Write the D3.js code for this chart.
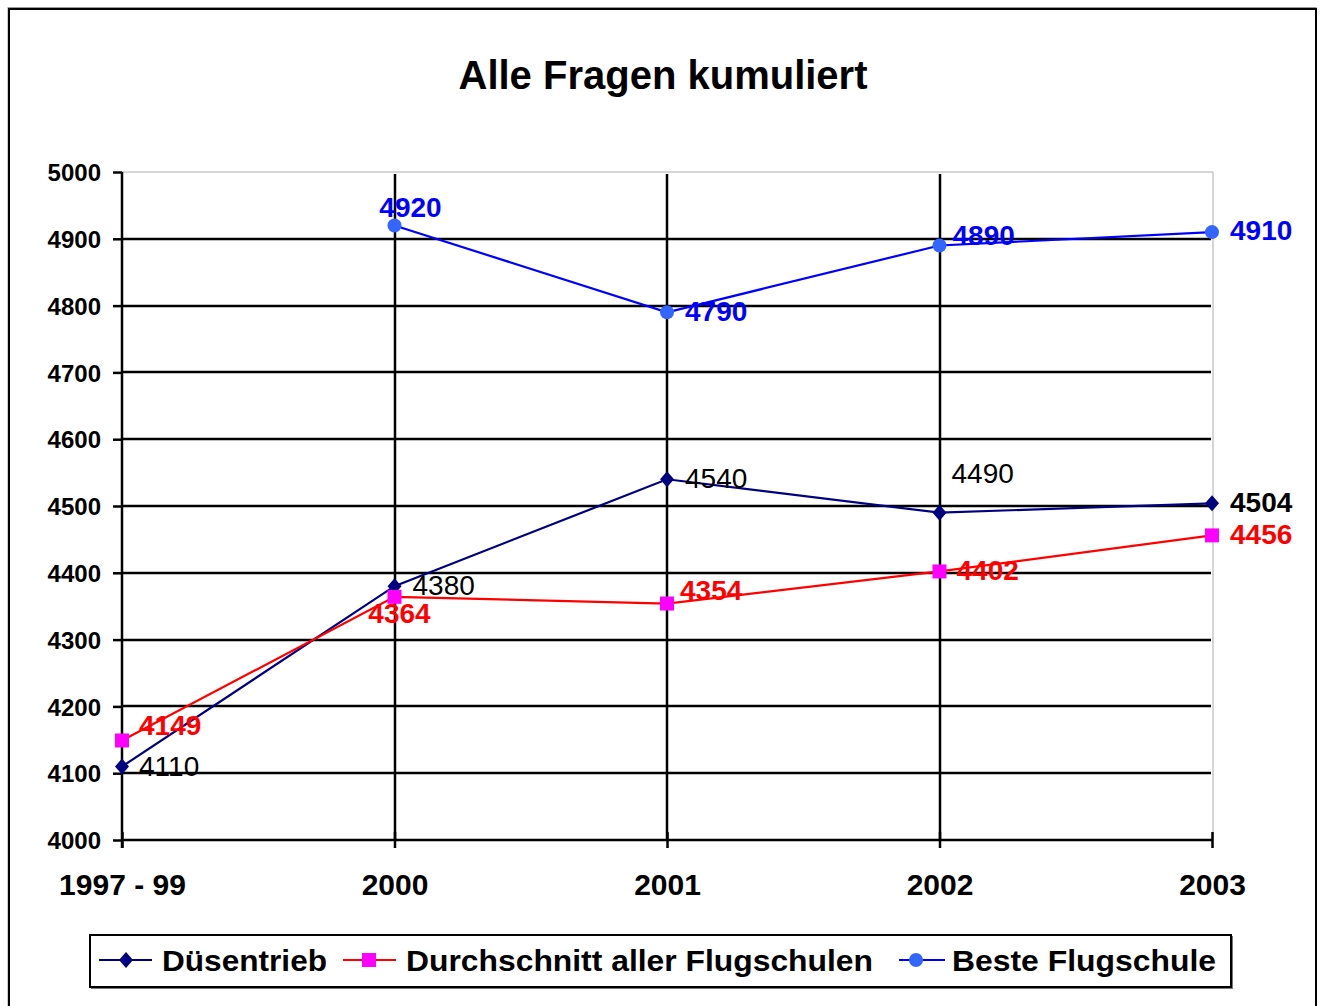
<!DOCTYPE html>
<html>
<head>
<meta charset="utf-8">
<script src="https://cdn.jsdelivr.net/npm/d3@7"></script>
<style>
  html, body { margin: 0; padding: 0; background: #fff; }
  svg { display: block; font-family: "Liberation Sans", Arial, sans-serif; }
</style>
</head>
<body>
<svg id="chart" width="1321" height="1006"></svg>
<script>
// ---- data ----
const categories = ["1997 - 99", "2000", "2001", "2002", "2003"];
const duesentrieb = [4110, 4380, 4540, 4490, 4504];
const durchschnitt = [4149, 4364, 4354, 4402, 4456];
const besteFlugschule = [null, 4920, 4790, 4890, 4910];
const yTicks = [4000, 4100, 4200, 4300, 4400, 4500, 4600, 4700, 4800, 4900, 5000];
const seriesNames = ["Düsentrieb", "Durchschnitt aller Flugschulen", "Beste Flugschule"];
const title = "Alle Fragen kumuliert";

// ---- label offsets (presentation) ----
const offDues = [[17, 9, "start", "normal"], [18, 9, "start", "normal"], [18, 9, "start", "normal"], [12, -30, "start", "normal"], [18, 9, "start", "bold"]];
const offDurch = [[17, -5, "start", "bold"], [5, 26, "middle", "bold"], [13, -4, "start", "bold"], [17, 9, "start", "bold"], [18, 9, "start", "bold"]];
const offBeste = [null, [16, -8, "middle", "bold"], [18, 9, "start", "bold"], [13, 0, "start", "bold"], [18, 8, "start", "bold"]];

const svg = d3.select("#chart");

// outer frame
svg.append("rect").attr("x", 8).attr("y", 7.5).attr("width", 1308).attr("height", 1010)
  .attr("fill", "none").attr("stroke", "#999").attr("stroke-width", 1);
svg.append("rect").attr("x", 9).attr("y", 9).attr("width", 1307).attr("height", 1010)
  .attr("fill", "none").attr("stroke", "#000").attr("stroke-width", 2);

const x = d3.scalePoint().domain(categories).range([122, 1212]).padding(0);
const y = d3.scaleLinear().domain([4000, 5000]).range([840, 172]);
const ry = v => Math.round(y(v));

// title
svg.append("text").attr("x", 663).attr("y", 89).attr("text-anchor", "middle")
  .attr("font-size", 40).attr("font-weight", "bold").text(title);

// plot border (grey top/right)
svg.append("line").attr("x1", 122).attr("x2", 1213).attr("y1", 172).attr("y2", 172)
  .attr("stroke", "#c8c8c8").attr("stroke-width", 1.5);
svg.append("line").attr("x1", 1213).attr("x2", 1213).attr("y1", 172).attr("y2", 840)
  .attr("stroke", "#c8c8c8").attr("stroke-width", 1.5);

// horizontal gridlines
svg.append("g").selectAll("line").data(yTicks.filter(t => t > 4000 && t < 5000)).join("line")
  .attr("x1", 122).attr("x2", 1211).attr("y1", d => ry(d)).attr("y2", d => ry(d))
  .attr("stroke", "#000").attr("stroke-width", 2.5);

// vertical gridlines
svg.append("g").selectAll("line").data(categories.slice(1, 4)).join("line")
  .attr("x1", d => Math.round(x(d))).attr("x2", d => Math.round(x(d))).attr("y1", 174).attr("y2", 840)
  .attr("stroke", "#000").attr("stroke-width", 2.5);

// y axis
const yAxis = svg.append("g").attr("transform", "translate(122,0)")
  .call(d3.axisLeft(y).tickValues(yTicks).tickSize(9).tickPadding(12).tickFormat(d3.format("d")));
yAxis.select(".domain").attr("stroke", "#000").attr("stroke-width", 2.5).attr("d", "M0,172V848");
yAxis.selectAll(".tick line").attr("stroke", "#000").attr("stroke-width", 2.5);
yAxis.selectAll(".tick text").attr("font-size", 24).attr("font-weight", "bold")
  .attr("fill", "#000").attr("font-family", "Liberation Sans, Arial, sans-serif").attr("dy", "0.36em");

// x axis
const xAxis = svg.append("g").attr("transform", "translate(0,840)")
  .call(d3.axisBottom(x).tickSize(8).tickPadding(26));
xAxis.select(".domain").attr("stroke", "#000").attr("stroke-width", 2.5).attr("d", "M122,0H1212");
xAxis.selectAll(".tick line").attr("stroke", "#000").attr("stroke-width", 2.5).attr("y1", -8);
xAxis.selectAll(".tick text").attr("font-size", 30).attr("font-weight", "bold")
  .attr("fill", "#000").attr("font-family", "Liberation Sans, Arial, sans-serif").attr("dy", "0.71em");

// series
const series = [
  { name: seriesNames[0], values: duesentrieb, line: "#000080", marker: "#000080", shape: "diamond", labelColor: "#000", offs: offDues },
  { name: seriesNames[1], values: durchschnitt, line: "#ff0000", marker: "#ff00ff", shape: "square", labelColor: "#ff0000", offs: offDurch },
  { name: seriesNames[2], values: besteFlugschule, line: "#0000ff", marker: "#3366ff", shape: "circle", labelColor: "#0000ff", offs: offBeste }
];

const lineGen = d3.line().defined(d => d.v != null).x(d => x(d.c)).y(d => y(d.v));

series.forEach(s => {
  const pts = categories.map((c, i) => ({ c, v: s.values[i], i }));
  svg.append("path").datum(pts).attr("d", lineGen).attr("fill", "none")
    .attr("stroke", s.line).attr("stroke-width", 2.2);
});

function markerPath(shape) {
  if (shape === "diamond") return "M0,-8L7,0L0,8L-7,0Z";
  if (shape === "square") return "M-7,-7H7V7H-7Z";
  return d3.symbol().type(d3.symbolCircle).size(Math.PI * 49)();
}

series.forEach(s => {
  const pts = categories.map((c, i) => ({ c, v: s.values[i], i })).filter(d => d.v != null);
  svg.append("g").selectAll("path").data(pts).join("path")
    .attr("transform", d => `translate(${x(d.c)},${y(d.v)})`)
    .attr("d", markerPath(s.shape)).attr("fill", s.marker);
});

series.forEach(s => {
  const pts = categories.map((c, i) => ({ c, v: s.values[i], i })).filter(d => d.v != null);
  svg.append("g").selectAll("text").data(pts).join("text")
    .attr("x", d => x(d.c) + s.offs[d.i][0])
    .attr("y", d => y(d.v) + s.offs[d.i][1])
    .attr("text-anchor", d => s.offs[d.i][2])
    .attr("font-weight", d => s.offs[d.i][3])
    .attr("font-size", 28).attr("fill", s.labelColor)
    .text(d => d.v);
});

// legend
const lg = svg.append("g");
lg.append("rect").attr("x", 91).attr("y", 936).attr("width", 1142).attr("height", 53)
  .attr("fill", "#777").attr("stroke", "none");
lg.append("rect").attr("x", 90).attr("y", 935).attr("width", 1141).attr("height", 52)
  .attr("fill", "#fff").attr("stroke", "#000").attr("stroke-width", 2);
const legendPos = [
  { lx1: 99, lx2: 152, mx: 126, tx: 162, tw: 165 },
  { lx1: 343, lx2: 396, mx: 369, tx: 406, tw: 467 },
  { lx1: 899, lx2: 945, mx: 916, tx: 952, tw: 264 }
];
series.forEach((s, i) => {
  const p = legendPos[i];
  lg.append("line").attr("x1", p.lx1).attr("x2", p.lx2).attr("y1", 960).attr("y2", 960)
    .attr("stroke", s.line).attr("stroke-width", 2);
  lg.append("path").attr("transform", `translate(${p.mx},960)`).attr("d", markerPath(s.shape)).attr("fill", s.marker);
  lg.append("text").attr("x", p.tx).attr("y", 971).attr("font-size", 30).attr("font-weight", "bold")
    .attr("textLength", p.tw).attr("lengthAdjust", "spacingAndGlyphs").text(s.name);
});
</script>
</body>
</html>
